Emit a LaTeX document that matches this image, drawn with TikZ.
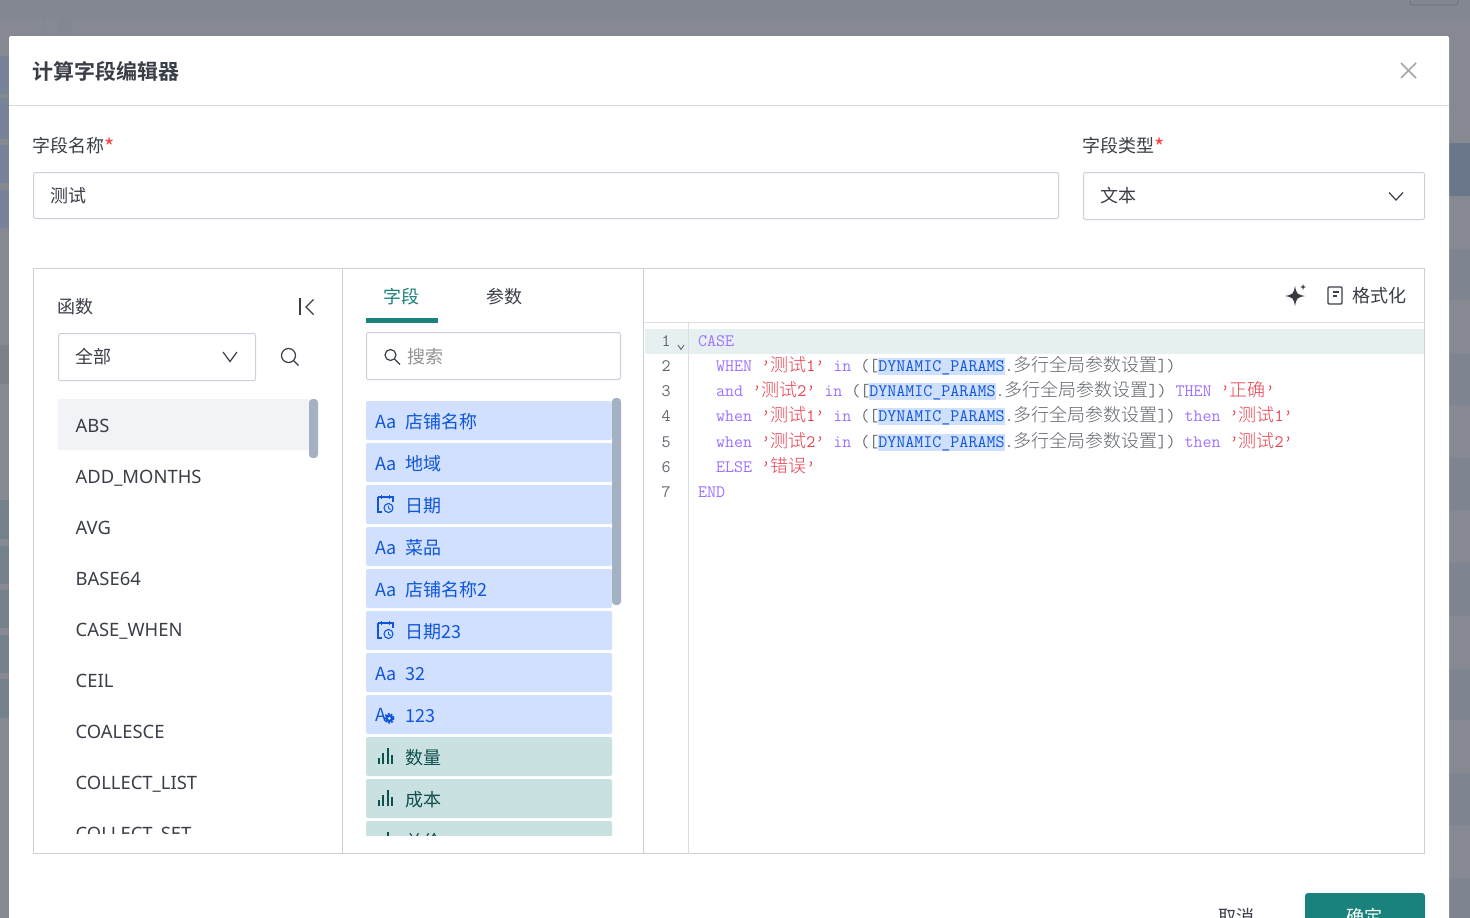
\documentclass[tikz,border=0pt]{standalone}
\usepackage{fontspec}
\setmainfont{Noto Sans CJK SC}[BoldFont=* Bold]
\newfontfamily\codecjk{Noto Sans CJK SC}[UprightFont=* Light]
\newfontfamily\funcfont{Noto Sans}

\definecolor{dimback}{HTML}{868992}
\definecolor{dimtop}{HTML}{828791}
\definecolor{dimblue}{HTML}{768399}
\definecolor{dimteal}{HTML}{72818A}
\definecolor{dimgray}{HTML}{7D8089}
\definecolor{dimstripe}{HTML}{7E8591}
\definecolor{edge}{HTML}{CBD0DA}
\definecolor{ink}{HTML}{3A3E47}
\definecolor{brand}{HTML}{1A827C}
\definecolor{scrollbar}{HTML}{A3B1C2}
\definecolor{rowgray}{HTML}{F2F3F7}
\definecolor{linemark}{HTML}{E7F0F1}
\definecolor{fieldblue}{HTML}{D0E0FE}
\definecolor{fieldink}{HTML}{1155D8}
\definecolor{metricteal}{HTML}{C9E2E1}
\definecolor{metricink}{HTML}{0F4F4C}
\definecolor{kwpurple}{HTML}{9F72FF}
\definecolor{strred}{HTML}{E8404E}
\definecolor{codegray}{HTML}{62666E}
\definecolor{markblue}{HTML}{CFE0FD}

\newcommand{\kw}[1]{\textcolor{kwpurple}{#1}}
\newcommand{\strg}[1]{\textcolor{strred}{#1}}
\newcommand{\cn}[1]{\raisebox{-0.8pt}{\codecjk\fontsize{18}{18}\selectfont #1}}
\newcommand{\dyn}{{\setlength{\fboxsep}{0pt}\colorbox{markblue}{\rule[-4pt]{0pt}{17pt}\textcolor{fieldink}{DYNAMIC\_PARAMS}}}}
\newcommand{\reqmark}{\raisebox{-3.5pt}{\textcolor{red!75}{\fontsize{22}{22}\selectfont *}}}

\tikzset{
  uitext/.style={anchor=base west,inner sep=0pt,yshift=-0.4pt,text=ink,font=\fontsize{18}{18}\selectfont},
  fieldtext/.style={uitext,yshift=-0.6pt,text=fieldink},
  metrictext/.style={uitext,yshift=-0.6pt,text=metricink},
  funcrow/.style={uitext,yshift=-0.4pt,font=\funcfont\fontsize{18.4}{18}\selectfont},
  codeline/.style={anchor=base west,inner sep=0pt,text=codegray,font=\ttfamily\fontsize{17.5}{18}\selectfont},
  lineno/.style={anchor=base,inner sep=0pt,text=codegray,font=\ttfamily\fontsize{17.5}{18}\selectfont},
  inputbox/.style={draw=edge,line width=1pt,rounded corners=2pt,fill=white},
  fieldrow/.style={fill=fieldblue,rounded corners=2pt},
  metricrow/.style={fill=metricteal,rounded corners=2pt},
  thumb/.style={fill=scrollbar,rounded corners=3.5pt},
  iconline/.style={draw=ink,line width=1.2pt},
  fieldicon/.style={draw=fieldink,line width=1.1pt},
  dimbar/.style={fill=dimstripe}
}

\newcommand{\dateicon}[1]{%
  \draw[fieldicon] (378,#1-8) -- (378,#1+7) -- (382,#1+7);
  \draw[fieldicon] (378,#1-8) -- (393,#1-8) -- (393,#1-3);
  \draw[fieldicon] (381.5,#1-10) -- (381.5,#1-6);
  \draw[fieldicon] (389.5,#1-10) -- (389.5,#1-6);
  \draw[fieldicon,fill=fieldblue] (388.5,#1+3) circle (4.5);
  \draw[fieldicon,line width=0.9pt] (388.5,#1+0.5) -- (388.5,#1+3) -- (390.5,#1+4.5);
}
\newcommand{\barsicon}[1]{%
  \fill[metricink] (378,#1+1) rectangle (380,#1+7);
  \fill[metricink] (382.3,#1-4) rectangle (384.3,#1+7);
  \fill[metricink] (386.7,#1-9) rectangle (388.7,#1+7);
  \fill[metricink] (391.3,#1-2) rectangle (393.3,#1+7);
}

\begin{document}
\begin{tikzpicture}[x=1pt,y=-1pt]
    \useasboundingbox (0,0) rectangle (1470,918);
    \clip (0,0) rectangle (1470,918);

    % dimmed page behind the dialog
    \fill[dimback] (0,0) rectangle (1470,918);
    \fill[dimtop] (0,0) rectangle (1470,18);
    \fill[dimtop] (58,0) rectangle (72,36);
    \draw[dimstripe,densely dashed,line width=0.6pt] (0,9) -- (44,9) -- (44,36);
    \draw[dimstripe!85!black,rounded corners=2pt,line width=0.7pt] (1410,-5) rectangle (1458,5);
    \fill[dimblue] (0,56) rectangle (9,94);
    \fill[dimblue] (0,98) rectangle (9,139);
    \fill[dimblue] (0,145) rectangle (9,183);
    \fill[dimblue] (0,190) rectangle (9,228);
    \fill[dimgray] (0,345) rectangle (9,384);
    \fill[dimteal] (0,500) rectangle (9,539);
    \fill[dimteal] (0,546) rectangle (9,584);
    \fill[dimteal] (0,590) rectangle (9,628);
    \fill[dimteal] (0,635) rectangle (9,673);
    \fill[dimteal] (0,679) rectangle (9,718);
    \fill[dimblue!90!black] (1449,143) rectangle (1470,196);
    \fill[dimbar] (1449,249) rectangle (1470,300);
    \fill[dimbar] (1449,354) rectangle (1470,405);
    \fill[dimbar] (1449,458) rectangle (1470,510);
    \fill[dimbar] (1449,563) rectangle (1470,616);
    \fill[dimbar] (1449,669) rectangle (1470,720);
    \fill[dimbar] (1449,773) rectangle (1470,825);
    \fill[dimbar] (1449,878) rectangle (1470,918);

    % dialog
    \fill[white,rounded corners=2pt] (9,36) rectangle (1449,930);
    \draw[gray!30,line width=1pt] (9,105.5) -- (1449,105.5);
    \node[uitext,font=\fontsize{21}{21}\selectfont\bfseries] (title) at (32,79) {计算字段编辑器};
    \draw[gray!70,line width=1.5pt] (1401,63) -- (1416,78);
    \draw[gray!70,line width=1.5pt] (1416,63) -- (1401,78);

    % name and type
    \node[uitext] (namelabel) at (32,152) {字段名称\reqmark};
    \node[uitext] (typelabel) at (1082,152) {字段类型\reqmark};
    \draw[inputbox] (33.5,172.5) rectangle (1058.5,218.5);
    \node[uitext] (namevalue) at (50,202) {测试};
    \draw[inputbox] (1083.5,172.5) rectangle (1424.5,219.5);
    \node[uitext] (typevalue) at (1100,202) {文本};
    \draw[iconline] (1389,192.5) -- (1396,200) -- (1403,192.5);

    % editor frame
    \draw[edge,line width=1.2pt] (33.5,268.5) rectangle (1424.5,853.5);
    \draw[edge,line width=1pt] (342.5,268.5) -- (342.5,853.5);
    \draw[edge,line width=1pt] (643.5,268.5) -- (643.5,853.5);
    \draw[edge!70,line width=1pt] (643.5,322.5) -- (1424.5,322.5);

    % functions
    \node[uitext] (functitle) at (57,313.5) {函数};
    \draw[iconline] (300,298) -- (300,315);
    \draw[iconline] (313.5,299.5) -- (306,307) -- (313.5,314.5);
    \draw[inputbox] (58.5,333.5) rectangle (255.5,380.5);
    \node[uitext] (funcfilter) at (75,363.5) {全部};
    \draw[iconline] (223,352) -- (230,361.5) -- (237,352);
    \draw[iconline] (288.5,355.5) circle (7);
    \draw[iconline] (293.5,360.5) -- (298.5,365.5);
    \fill[rowgray] (58,399) rectangle (309,450);
    \fill[thumb] (309,399) rectangle (318,458);
    \begin{scope}
      \clip (58,399) rectangle (320,833);
      \node[funcrow] (fabs) at (75.5,431.5) {ABS};
      \node[funcrow] (faddmonths) at (75.5,482.5) {ADD\_MONTHS};
      \node[funcrow] (favg) at (75.5,533.5) {AVG};
      \node[funcrow] (fbase) at (75.5,584.5) {BASE64};
      \node[funcrow] (fcase) at (75.5,635.5) {CASE\_WHEN};
      \node[funcrow] (fceil) at (75.5,686.5) {CEIL};
      \node[funcrow] (fcoalesce) at (75.5,737.5) {COALESCE};
      \node[funcrow] (fcollectlist) at (75.5,788.5) {COLLECT\_LIST};
      \node[funcrow] (fcollectset) at (75.5,839.5) {COLLECT\_SET};
    \end{scope}

    % fields
    \node[uitext,text=brand] (fieldstab) at (383,303) {字段};
    \node[uitext] (paramstab) at (486,303) {参数};
    \fill[brand] (366,318) rectangle (438,323);
    \draw[inputbox] (366.5,332.5) rectangle (620.5,379.5);
    \draw[iconline] (390.5,355) circle (5.5);
    \draw[iconline] (394.5,359) -- (400,364.5);
    \node[uitext,text=gray!85] (searchhint) at (407,363) {搜索};
    \begin{scope}
      \clip (366,398) rectangle (625,835);
      \fill[fieldrow] (366,401) rectangle (612,440);
      \fill[fieldrow] (366,443) rectangle (612,482);
      \fill[fieldrow] (366,485) rectangle (612,524);
      \fill[fieldrow] (366,527) rectangle (612,566);
      \fill[fieldrow] (366,569) rectangle (612,608);
      \fill[fieldrow] (366,611) rectangle (612,650);
      \fill[fieldrow] (366,653) rectangle (612,692);
      \fill[fieldrow] (366,695) rectangle (612,734);
      \fill[metricrow] (366,737) rectangle (612,776);
      \fill[metricrow] (366,779) rectangle (612,818);
      \fill[metricrow] (366,821) rectangle (612,860);

      \node[fieldtext] (shopicon) at (375,427) {Aa};
      \node[fieldtext] (shop) at (405,427) {店铺名称};
      \node[fieldtext] (regionicon) at (375,469) {Aa};
      \node[fieldtext] (region) at (405,469) {地域};
      \dateicon{505}
      \node[fieldtext] (date) at (405,511) {日期};
      \node[fieldtext] (dishicon) at (375,553) {Aa};
      \node[fieldtext] (dish) at (405,553) {菜品};
      \node[fieldtext] (shoptwoicon) at (375,595) {Aa};
      \node[fieldtext] (shoptwo) at (405,595) {店铺名称2};
      \dateicon{631}
      \node[fieldtext] (datetwo) at (405,637) {日期23};
      \node[fieldtext] (numicon) at (375,679) {Aa};
      \node[fieldtext] (num) at (405,679) {32};
      \node[fieldtext] (calcicon) at (375,720) {A};
      \draw[fieldink,line width=1.9pt,dash pattern=on 1.7pt off 1.4pt] (389.3,718.3) circle (4.4);
      \fill[fieldink] (389.3,718.3) circle (4);
      \fill[fieldblue] (389.3,718.3) circle (1.6);
      \node[fieldtext] (calc) at (405,721) {123};
      \barsicon{757}
      \node[metrictext] (qty) at (405,763) {数量};
      \barsicon{799}
      \node[metrictext] (cost) at (405,805) {成本};
      \barsicon{841}
      \node[metrictext] (price) at (405,847) {单价};
    \end{scope}
    \fill[thumb] (612,398) rectangle (621,605);

    % toolbar
    \fill[ink!95!black] (1295,286) .. controls (1296.5,294) and (1297,294.5) .. (1305,296) .. controls (1297,297.5) and (1296.5,298) .. (1295,306) .. controls (1293.5,298) and (1293,297.5) .. (1285,296) .. controls (1293,294.5) and (1293.5,294) .. (1295,286) -- cycle;
    \fill[ink!95!black] (1303,284) .. controls (1303.4,286.4) and (1303.6,286.6) .. (1306,287) .. controls (1303.6,287.4) and (1303.4,287.6) .. (1303,290) .. controls (1302.6,287.6) and (1302.4,287.4) .. (1300,287) .. controls (1302.4,286.6) and (1302.6,286.4) .. (1303,284) -- cycle;
    \draw[iconline,rounded corners=1pt] (1328,287) rectangle (1342,304);
    \draw[iconline] (1333,292) -- (1339,292);
    \draw[iconline] (1333,296) -- (1337,296);
    \node[uitext] (formatbtn) at (1352,302) {格式化};

    % code
    \fill[linemark] (645,329) rectangle (1424,354);
    \draw[edge!70,line width=1pt] (688.5,322.5) -- (688.5,853.5);
    \node[lineno] (no1) at (666,346) {1};
    \node[lineno] (no2) at (666,371) {2};
    \node[lineno] (no3) at (666,396) {3};
    \node[lineno] (no4) at (666,421) {4};
    \node[lineno] (no5) at (666,447) {5};
    \node[lineno] (no6) at (666,472) {6};
    \node[lineno] (no7) at (666,497) {7};
    \draw[codegray,line width=0.9pt] (678,345) -- (681,349.5) -- (684,345);
    \node[codeline] (line1) at (698,346) {\kw{CASE}};
    \node[codeline] (line2) at (716,371) {\kw{WHEN} \strg{’\cn{测试}1’} \kw{in} ([\dyn.\cn{多行全局参数设置}])};
    \node[codeline] (line3) at (716,396) {\kw{and} \strg{’\cn{测试}2’} \kw{in} ([\dyn.\cn{多行全局参数设置}]) \kw{THEN} \strg{’\cn{正确}’}};
    \node[codeline] (line4) at (716,421) {\kw{when} \strg{’\cn{测试}1’} \kw{in} ([\dyn.\cn{多行全局参数设置}]) \kw{then} \strg{’\cn{测试}1’}};
    \node[codeline] (line5) at (716,447) {\kw{when} \strg{’\cn{测试}2’} \kw{in} ([\dyn.\cn{多行全局参数设置}]) \kw{then} \strg{’\cn{测试}2’}};
    \node[codeline] (line6) at (716,472) {\kw{ELSE} \strg{’\cn{错误}’}};
    \node[codeline] (line7) at (698,497) {\kw{END}};

    % footer
    \node[uitext] (cancelbtn) at (1218,923) {取消};
    \fill[brand,rounded corners=3pt] (1305,893) rectangle (1425,935);
    \node[uitext,text=white] (okbtn) at (1346,923) {确定};
  \end{tikzpicture}
\end{document}
